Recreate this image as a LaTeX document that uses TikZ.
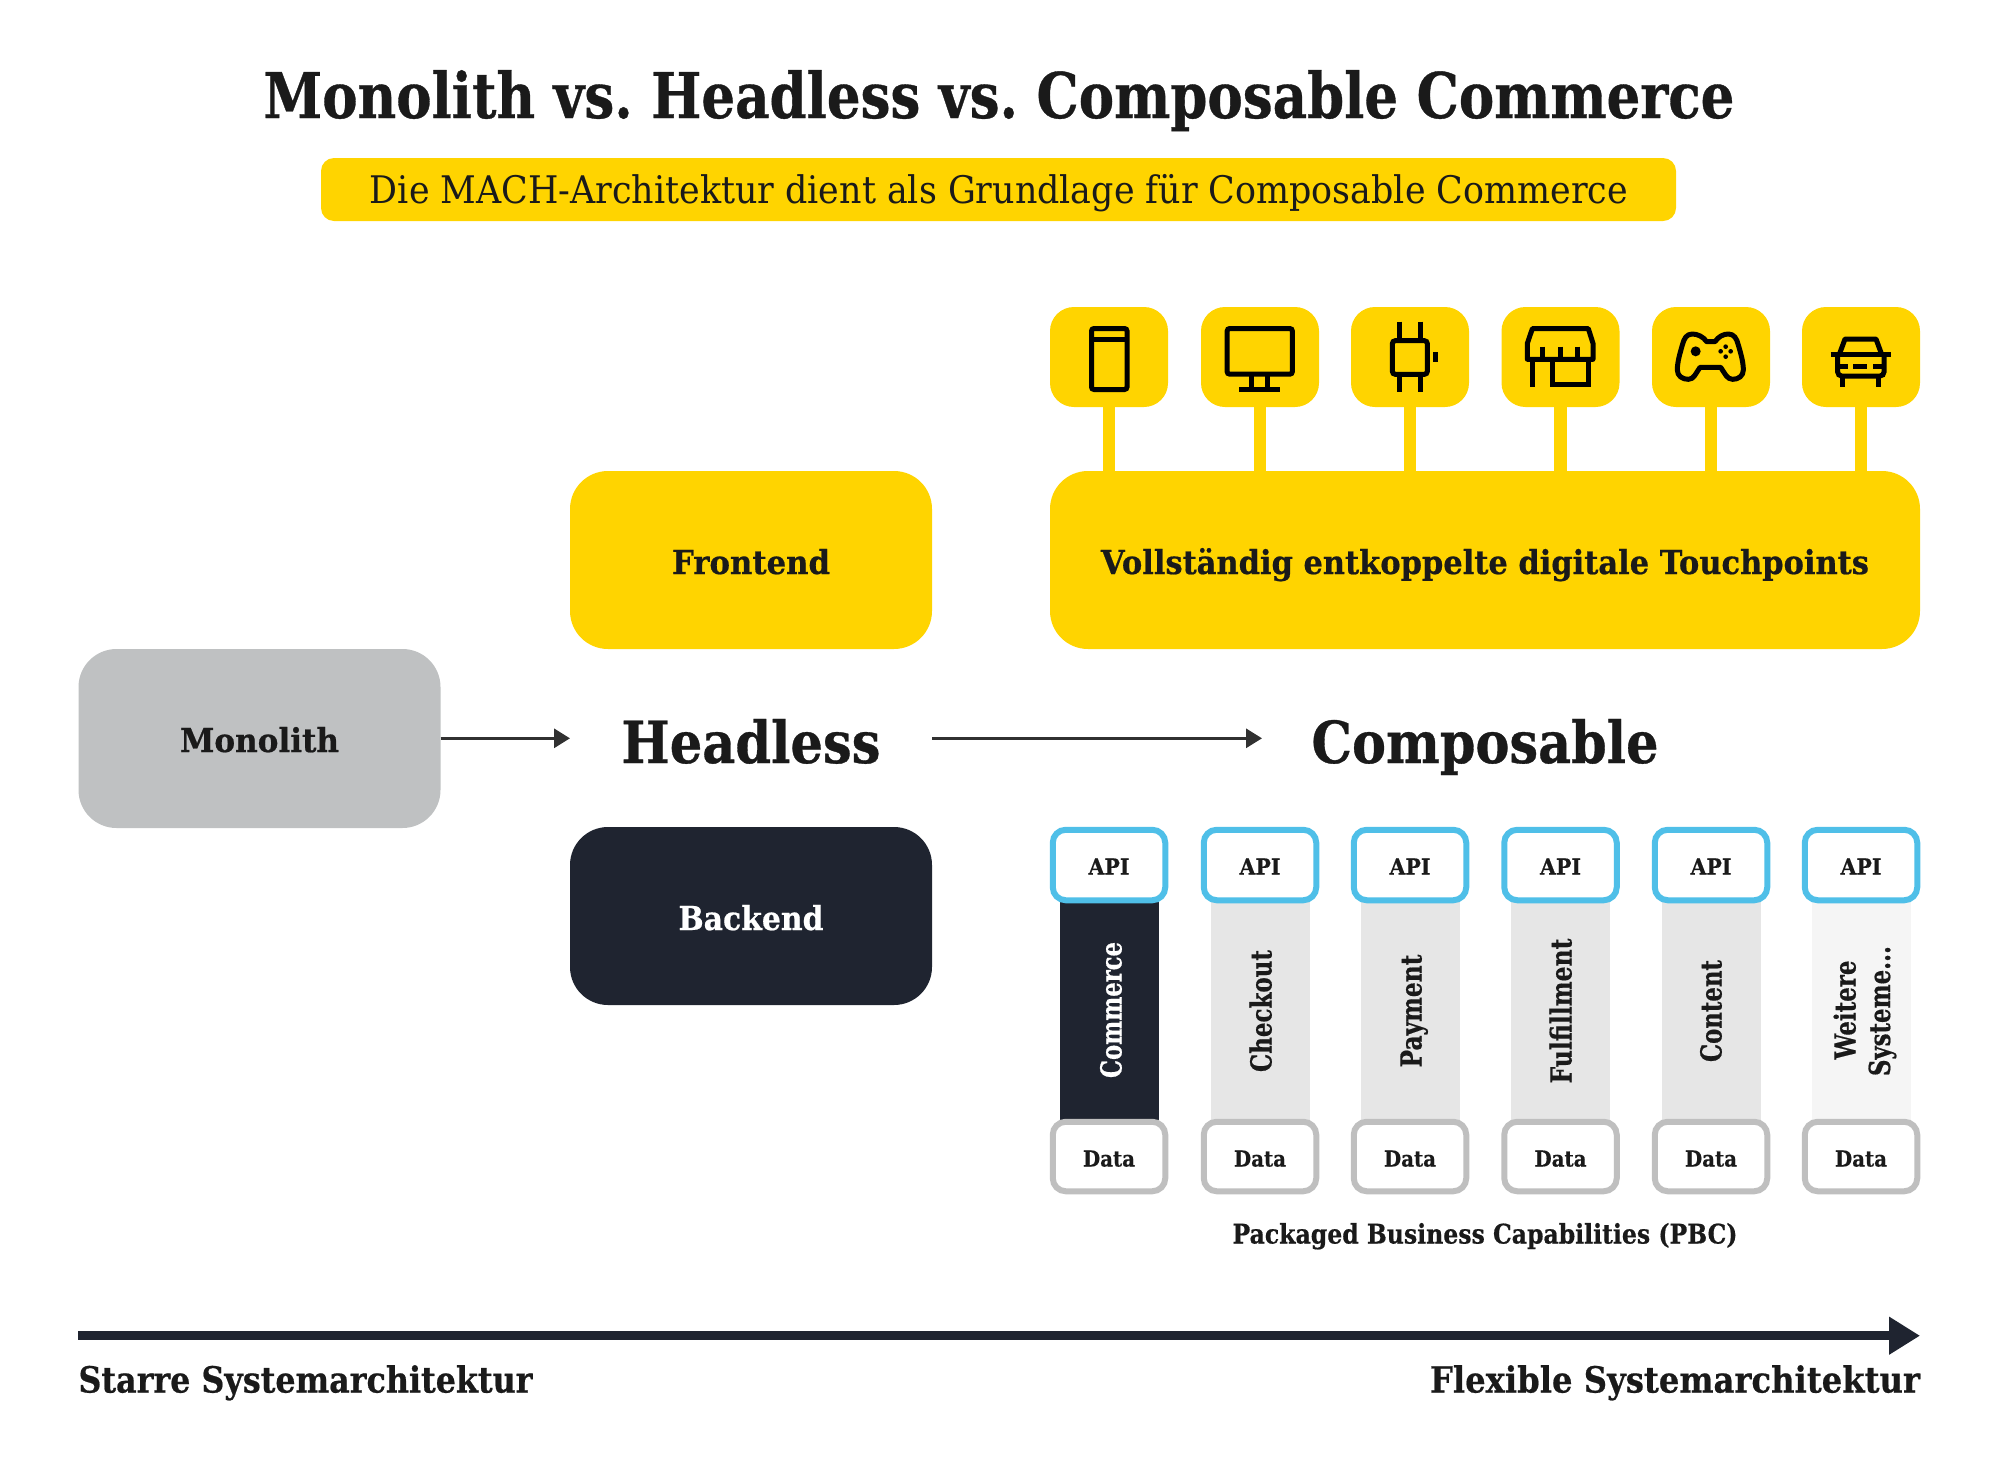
\documentclass[tikz,border=0pt]{standalone}
\usepackage{graphicx}
\usepackage{fontspec}
\setmainfont{DejaVu Serif}[BoldFeatures={FakeBold=0.6}]
\usetikzlibrary{arrows.meta}
\definecolor{ylw}{HTML}{FFD400}
\definecolor{ink}{HTML}{1A1A1A}
\definecolor{navy}{HTML}{1F2430}
\definecolor{mono}{HTML}{BFC1C2}
\definecolor{cyanb}{HTML}{4FBFE8}
\definecolor{greyb}{HTML}{BFBFBF}
\definecolor{barg}{HTML}{E6E6E6}
\definecolor{barl}{HTML}{F5F5F5}
\newcommand\fw[2]{\resizebox{#1pt}{\height}{#2}}
\tikzset{
 txt/.style={inner sep=0pt,outer sep=0pt,text=ink,anchor=base},
 bigbox/.style={rounded corners=38pt,inner sep=0pt,outer sep=0pt},
 iconbox/.style={fill=ylw,rounded corners=24pt,minimum width=118pt,minimum height=100pt,inner sep=0pt,outer sep=0pt},
 stem/.style={draw=ylw,line width=12.5pt},
 apibox/.style={draw=cyanb,fill=white,line width=6pt,rounded corners=13pt,minimum width=112.5pt,minimum height=70.5pt,inner sep=0pt,outer sep=0pt},
 databox/.style={draw=greyb,fill=white,line width=6pt,rounded corners=13pt,minimum width=112.5pt,minimum height=69.5pt,inner sep=0pt,outer sep=0pt},
 barbox/.style={minimum width=99pt,minimum height=218pt,inner sep=0pt,outer sep=0pt},
 ic/.style={draw=black,line width=5pt,line join=miter},
 flow/.style={draw=ink!90,line width=3pt,-{Triangle[length=16pt,width=19pt]}},
 rot/.style={txt,rotate=90},
}
\begin{document}
\frenchspacing
\begin{tikzpicture}[x=1pt,y=-1pt]
\useasboundingbox (0,0) rectangle (2000,1470);
% title
\node[txt,font=\bfseries\fontsize{63}{63}\selectfont] (title) at (999,118) {\fw{1471}{Monolith vs. Headless vs. Composable Commerce}};
\node[fill=ylw,rounded corners=13pt,minimum width=1355pt,minimum height=63pt,inner sep=0pt,outer sep=0pt] (banner) at (998.5,189.5) {};
\node[txt,font=\fontsize{38}{38}\selectfont] (bannertext) at (999,203) {\fw{1258}{Die MACH-Architektur dient als Grundlage für Composable Commerce}};
% big boxes
\node[bigbox,fill=ylw,minimum width=362pt,minimum height=178pt] (front) at (751,560) {};
\node[bigbox,fill=ylw,minimum width=870pt,minimum height=178pt] (touch) at (1485,560) {};
\node[bigbox,fill=mono,minimum width=362pt,minimum height=179pt] (mono) at (259.5,738.5) {};
\node[bigbox,fill=navy,minimum width=362pt,minimum height=178pt] (back) at (751,916) {};
\node[txt,font=\bfseries\fontsize{33}{33}\selectfont] (fronttext) at (751,574) {\fw{158}{Frontend}};
\node[txt,font=\bfseries\fontsize{33}{33}\selectfont] (touchtext) at (1485,574) {\fw{768}{Vollständig entkoppelte digitale Touchpoints}};
\node[txt,font=\bfseries\fontsize{33}{33}\selectfont] (monotext) at (259.5,752) {\fw{159}{Monolith}};
\node[txt,text=white,font=\bfseries\fontsize{33}{33}\selectfont] (backtext) at (751,930) {\fw{145}{Backend}};
% stage titles and arrows
\node[txt,font=\bfseries\fontsize{58}{58}\selectfont] (headless) at (751,763) {\fw{259}{Headless}};
\node[txt,font=\bfseries\fontsize{58}{58}\selectfont] (composable) at (1485,763) {\fw{347}{Composable}};
\coordinate (a1) at (570,738.3);
\coordinate (a2s) at (932,738.3);
\coordinate (a2e) at (1262,738.3);
\draw[flow] (mono.east |- a1) -- (a1);
\draw[flow] (a2s) -- (a2e);
% icon boxes and stems
\foreach \i/\x in {1/1109,2/1260,3/1410,4/1560.5,5/1711,6/1861}{
  \node[iconbox] (icon\i) at (\x,357) {};
  \draw[stem] (icon\i.south) -- (icon\i.south |- touch.north);
}
% PBC columns
\foreach \i/\x/\c/\k in {1/1109/navy/Commerce,2/1260/barg/Checkout,3/1410/barg/Payment,4/1560.5/barg/Fulfillment,5/1711/barg/Content,6/1861/barl/Weitere}{
  \node[barbox,fill=\c] (bar\i) at (\x,1011) {};
  \node[apibox] (api\i) at (\x,865) {};
  \node[databox] (data\i) at (\x,1156.5) {};
  \node[txt,font=\bfseries\fontsize{22}{22}\selectfont] (apitext\i) at (\x,874.5) {\fw{41}{API}};
  \node[txt,font=\bfseries\fontsize{22}{22}\selectfont] (datatext\i) at (\x,1166.5) {\fw{52}{Data}};
}
\tikzset{lab/.style={rot,font=\bfseries\fontsize{29}{29}\selectfont}}
\node[lab,text=white] (l1) at (1121.5,1010) {\fw{136}{Commerce}};
\node[lab] (l2) at (1271.5,1011) {\fw{122}{Checkout}};
\node[lab] (l3) at (1421.5,1011) {\fw{113}{Payment}};
\node[lab] (l4) at (1571.5,1011) {\fw{145}{Fulfillment}};
\node[lab] (l5) at (1721.5,1011) {\fw{102}{Content}};
\node[lab] (l6) at (1855.5,1010) {\fw{99}{Weitere}};
\node[lab] (l7) at (1890,1011) {\fw{130}{Systeme...}};
\node[txt,font=\bfseries\fontsize{27}{27}\selectfont] (pbc) at (1485,1243.5) {\fw{505}{Packaged Business Capabilities (PBC)}};
% timeline
\coordinate (t1) at (78,1335.7);
\coordinate (t2) at (1920,1335.7);
\draw[navy,line width=9pt,-{Triangle[length=31pt,width=36pt]}] (t1) -- (t2);
\node[txt,font=\bfseries\fontsize{36}{36}\selectfont,anchor=base west] (starre) at (78.5,1392.5) {\fw{454}{Starre Systemarchitektur}};
\node[txt,font=\bfseries\fontsize{36}{36}\selectfont,anchor=base east] (flex) at (1920,1392.5) {\fw{490}{Flexible Systemarchitektur}};
% icons 1-3
\begin{scope}[shift={(1030,290)},x=0.33333pt,y=-0.33333pt]
 \draw[ic,rounded corners=2.5pt] (184.5,115.5) rectangle (291,298.5);
 \draw[ic] (184.5,147) -- (291,147);
 \draw[ic,rounded corners=2.5pt] (591.5,115.5) rectangle (787,252.5);
 \draw[ic] (665,252.5) -- (665,298) (711,252.5) -- (711,298) (628,298) -- (750,298);
 \draw[ic,rounded corners=3pt] (1087,152) rectangle (1192,253);
 \draw[ic] (1109,95) -- (1109,152) (1170,95) -- (1170,152) (1109,253) -- (1109,306) (1170,253) -- (1170,306);
 \fill[black] (1208,185) rectangle (1224,215);
\end{scope}
% icons 4-6
\begin{scope}[shift={(1480,290)},x=0.33333pt,y=-0.33333pt]
 \draw[ic,line join=round] (157,116) -- (325,116) -- (339,160) -- (339,208) -- (142,208) -- (142,160) -- cycle;
 \draw[ic] (187,170) -- (187,208) (240,170) -- (240,208) (293,170) -- (293,208);
 \draw[ic] (157,208) -- (157,291);
 \draw[ic] (218,208) -- (218,284) -- (325,284) -- (325,208);
 \draw[ic,line join=round] (680,155) -- (705,155)
   .. controls (715,140) and (730,132) .. (745,132)
   .. controls (762,132) and (770,145) .. (775,165)
   .. controls (782,190) and (790,215) .. (790,240)
   .. controls (790,258) and (775,268) .. (758,268)
   .. controls (740,268) and (735,250) .. (722,232)
   -- (660,232)
   .. controls (647,250) and (642,268) .. (625,268)
   .. controls (607,268) and (592,258) .. (592,240)
   .. controls (592,215) and (600,190) .. (607,165)
   .. controls (612,145) and (620,132) .. (637,132)
   .. controls (652,132) and (670,140) .. (680,155) -- cycle;
 \fill[black] (647,184) circle[radius=15];
 \foreach \p in {(737,170),(722,184),(752,184),(737,200)} \fill[black] \p circle[radius=7];
 \draw[ic,line join=round] (1078,193) -- (1095,147) -- (1188,147) -- (1205,193);
 \draw[ic] (1052,193) -- (1233,193);
 \draw[ic,rounded corners=4pt] (1073,193) -- (1073,258) -- (1212,258) -- (1212,193);
 \draw[ic] (1073,230) -- (1105,230) (1180,230) -- (1212,230) (1120,230) -- (1162,230);
 \draw[ic] (1088,258) -- (1088,292) (1196,258) -- (1196,292);
\end{scope}
\end{tikzpicture}
\end{document}
